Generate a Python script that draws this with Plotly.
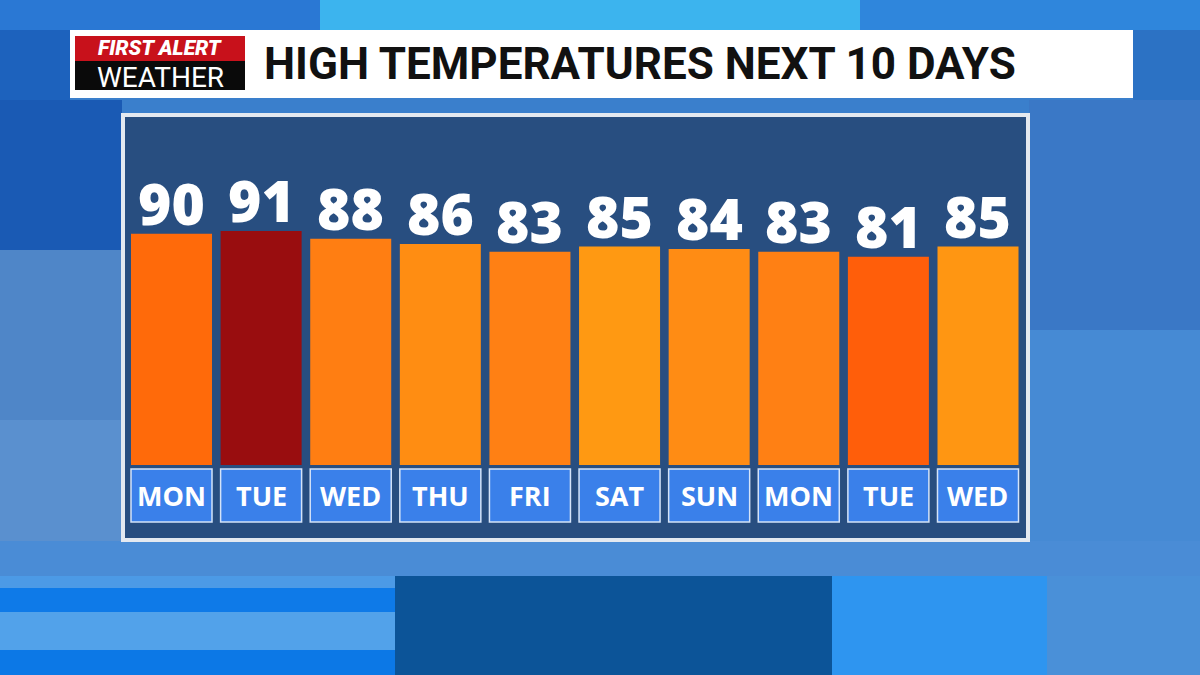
import plotly.graph_objects as go

days = ["MON", "TUE", "WED", "THU", "FRI", "SAT", "SUN", "MON", "TUE", "WED"]
highs = [90, 91, 88, 86, 83, 85, 84, 83, 81, 85]
bar_colors = ["#ff6a0a", "#990d0f", "#ff7e12", "#ff8d12", "#ff8014", "#ff9912",
              "#ff8c14", "#ff8014", "#ff5e0a", "#ff9612"]
title_text = "HIGH TEMPERATURES NEXT 10 DAYS"

W, H = 1200, 675
xs = list(range(len(days)))


def px(x):
    return x / W


def py(y):
    return 1 - y / H


fig = go.Figure()
fig.add_trace(go.Bar(
    x=xs, y=highs,
    marker=dict(color=bar_colors, line=dict(width=0)),
    hoverinfo="skip", width=0.904,
))

shapes = []


def rect(x0, y0, x1, y1, color, layer="below", line=None):
    d = dict(type="rect", xref="paper", yref="paper",
             x0=px(x0), x1=px(x1), y0=py(y1), y1=py(y0),
             fillcolor=color, layer=layer, line=line or dict(width=0))
    shapes.append(d)


# sky-like background blocks
rect(0, 0, 1200, 675, "#3a7fcc")
rect(0, 0, 1200, 30, "#2a78d4")
rect(320, 0, 860, 30, "#3cb4ee")
rect(860, 0, 1200, 30, "#2f86dc")
rect(0, 30, 70, 100, "#1d62bd")
rect(1133, 30, 1200, 100, "#2c72c4")
rect(0, 100, 122, 250, "#1a5ab4")
rect(0, 250, 122, 560, "#4f86c8")
rect(0, 420, 122, 560, "#5a90cf")
rect(1029, 100, 1200, 560, "#3a78c6")
rect(1029, 330, 1200, 560, "#468ad4")
rect(0, 541, 1200, 576, "#4a8cd6")
rect(0, 576, 395, 588, "#4c9ae6")
rect(0, 588, 395, 612, "#0e7ae8")
rect(0, 612, 395, 650, "#52a2ea")
rect(0, 650, 395, 675, "#0c78e6")
rect(395, 576, 832, 675, "#0c5498")
rect(832, 576, 1047, 675, "#2e95f0")
rect(1047, 576, 1200, 675, "#4a90d8")

# chart panel
rect(121, 113, 1030, 542, "#e4e9f0")
rect(125, 117, 1026, 538, "#284e80")

# title bar
rect(70, 30, 1133, 98, "#ffffff", layer="above")
rect(75, 36, 245, 61, "#c8111b", layer="above")
rect(75, 61, 245, 90, "#0a0a0a", layer="above")

# day label boxes
for i in xs:
    shapes.append(dict(type="rect", xref="x", yref="paper",
                       x0=i - 0.452, x1=i + 0.452, y0=py(522), y1=py(469),
                       fillcolor="#3a80ea", layer="above",
                       line=dict(color="#d4e3f8", width=1.5)))

annotations = [
    dict(text=str(v), x=i, xref="x", y=v, yref="y", showarrow=False,
         xanchor="center", yanchor="bottom", yshift=-10,
         font=dict(family="Open Sans", size=57, color="white", weight=800))
    for i, v in zip(xs, highs)
]
annotations += [
    dict(text=d, x=i, xref="x", y=py(495.5), yref="paper", showarrow=False,
         font=dict(family="Open Sans", size=27, color="white", weight=700),
         xanchor="center", yanchor="middle")
    for i, d in enumerate(days)
]
annotations += [
    dict(text="<i>FIRST ALERT</i>", x=px(160), y=py(48), xref="paper", yref="paper",
         showarrow=False, xanchor="center", yanchor="middle",
         font=dict(family="Roboto", size=21, color="white", weight=900)),
    dict(text="WEATHER", x=px(160), y=py(77.5), xref="paper", yref="paper",
         showarrow=False, xanchor="center", yanchor="middle",
         font=dict(family="Roboto", size=28, color="white", weight=400)),
    dict(text=title_text, x=px(262), y=py(64), xref="paper", yref="paper",
         showarrow=False, xanchor="left", yanchor="middle",
         font=dict(family="Roboto", size=44, color="#111111", weight=700)),
]

fig.update_layout(
    width=W, height=H,
    margin=dict(l=0, r=0, t=0, b=0),
    paper_bgcolor="#3a7fcc", plot_bgcolor="rgba(0,0,0,0)",
    showlegend=False,
    bargap=0.096,
    xaxis=dict(domain=[px(126.7), px(1022.8)], range=[-0.5, 9.5],
               showticklabels=False, showgrid=False, zeroline=False, fixedrange=True),
    yaxis=dict(domain=[py(465), py(118)], range=[0, 135],
               showticklabels=False, showgrid=False, zeroline=False, fixedrange=True),
    shapes=shapes, annotations=annotations,
)

fig.write_html(
    "out.html",
    config={"displayModeBar": False},
    post_script="document.body.style.margin='0';document.body.style.overflow='hidden';",
)
